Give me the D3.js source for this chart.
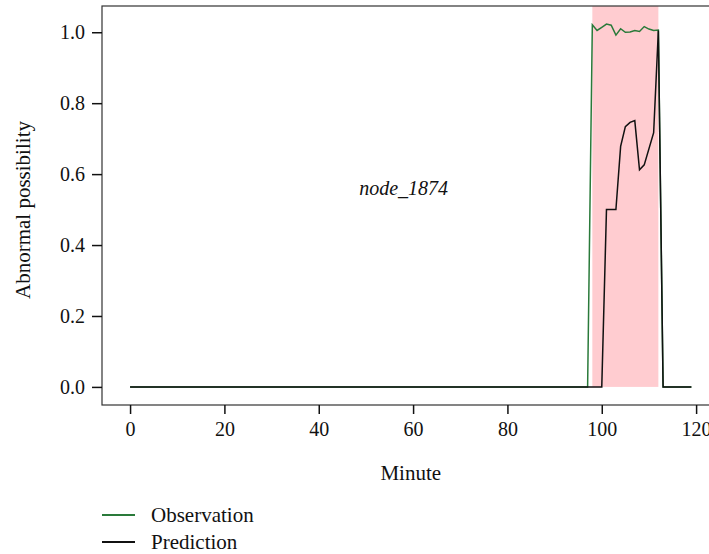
<!DOCTYPE html>
<html>
<head>
<meta charset="utf-8">
<script src="https://cdn.jsdelivr.net/npm/d3@7"></script>
<style>
  body { margin: 0; background: #fff; }
  text { font-family: "Liberation Serif", "DejaVu Serif", serif; fill: #111; }
</style>
</head>
<body>
<svg id="chart" width="709" height="554"></svg>
<script>
// observation breakpoints (minute, value)
const obsMinutes = [0, 97, 98, 99, 100, 101, 102, 103, 104, 105, 106, 107, 108, 109, 110, 111, 112, 113, 119];
const obsValues = [0, 0, 1.021, 1.005, 1.014, 1.023, 1.02, 0.992, 1.01, 1.0, 1.001, 1.005, 1.002, 1.016, 1.009, 1.005, 1.006, 0, 0];

// prediction breakpoints
const predMinutes = [0, 100, 101, 103, 104, 105, 106, 107, 108, 109, 111, 112, 113, 119];
const predValues = [0, 0, 0.5, 0.5, 0.678, 0.734, 0.746, 0.751, 0.612, 0.626, 0.717, 1.005, 0, 0];

const anomalySpan = [98, 112];
const xTicks = [0, 20, 40, 60, 80, 100, 120];
const yTicks = [0, 0.2, 0.4, 0.6, 0.8, 1.0];
const nodeName = "node_1874";

const svg = d3.select("#chart");

const marginLeft = 102, marginTop = 6, plotBottom = 405;

const x = d3.scaleLinear().domain([-5.95, 124.95]).range([marginLeft, marginLeft + 130.9 * 4.717]);
const y = d3.scaleLinear().domain([-0.051, 1.074]).range([plotBottom, marginTop]);

const toPoints = (xs, ys) => xs.map((m, i) => [m, ys[i]]);

// anomaly band
svg.append("rect")
  .attr("x", x(anomalySpan[0]))
  .attr("y", y(1.074))
  .attr("width", x(anomalySpan[1]) - x(anomalySpan[0]))
  .attr("height", y(0) - y(1.074))
  .attr("fill", "#ffccd0");

const line = d3.line().x(d => x(d[0])).y(d => y(d[1]));

svg.append("path")
  .datum(toPoints(obsMinutes, obsValues))
  .attr("fill", "none")
  .attr("stroke", "#2a7a3a")
  .attr("stroke-width", 1.5)
  .attr("d", line);

svg.append("path")
  .datum(toPoints(predMinutes, predValues))
  .attr("fill", "none")
  .attr("stroke", "#111")
  .attr("stroke-width", 1.5)
  .attr("d", line);

// frame
svg.append("rect")
  .attr("x", marginLeft)
  .attr("y", marginTop)
  .attr("width", x.range()[1] - marginLeft)
  .attr("height", plotBottom - marginTop)
  .attr("fill", "none")
  .attr("stroke", "#333")
  .attr("stroke-width", 1.2);

const xAxis = svg.append("g")
  .attr("transform", `translate(0,${plotBottom})`)
  .call(d3.axisBottom(x).tickValues(xTicks).tickSize(9).tickPadding(8).tickFormat(d3.format("d")));

const yAxis = svg.append("g")
  .attr("transform", `translate(${marginLeft},0)`)
  .call(d3.axisLeft(y).tickValues(yTicks).tickSize(10).tickPadding(7).tickFormat(d3.format(".1f")));

[xAxis, yAxis].forEach(g => {
  g.select(".domain").remove();
  g.selectAll(".tick line").attr("stroke", "#111").attr("stroke-width", 1.5);
  g.selectAll(".tick text").attr("font-size", 20).attr("font-family", "Liberation Serif").attr("fill", "#111");
});

svg.append("text")
  .attr("x", (marginLeft + x.range()[1]) / 2)
  .attr("y", 480)
  .attr("text-anchor", "middle")
  .attr("font-size", 21)
  .text("Minute");

svg.append("text")
  .attr("transform", "translate(30,210) rotate(-90)")
  .attr("text-anchor", "middle")
  .attr("font-size", 21)
  .text("Abnormal possibility");

svg.append("text")
  .attr("x", x(58))
  .attr("y", y(0.54))
  .attr("text-anchor", "middle")
  .attr("font-size", 20)
  .attr("font-style", "italic")
  .text(nodeName);

// legend
const legend = [
  { label: "Observation", color: "#2a7a3a" },
  { label: "Prediction", color: "#111" }
];
const lg = svg.append("g").selectAll("g").data(legend).join("g")
  .attr("transform", (d, i) => `translate(102,${515 + i * 27})`);
lg.append("line").attr("x1", 0).attr("x2", 33)
  .attr("stroke", d => d.color).attr("stroke-width", 1.8);
lg.append("text").attr("x", 49).attr("y", 7)
  .attr("font-size", 21).text(d => d.label);
</script>
</body>
</html>
